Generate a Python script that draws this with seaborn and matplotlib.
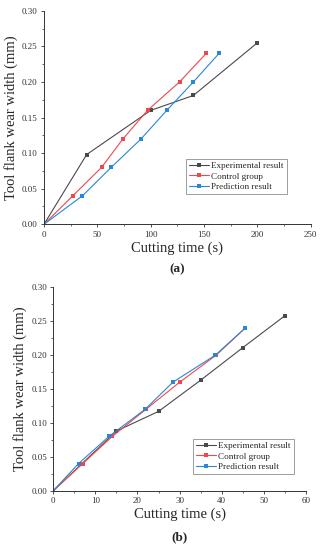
import numpy as np
import pandas as pd
import matplotlib
matplotlib.use('Agg')
import matplotlib.pyplot as plt
from matplotlib.ticker import MultipleLocator
import seaborn as sns

# ---- data (a) ----
a_exp_t = [0, 40, 100, 140, 200]
a_exp_w = [0.0, 0.098, 0.160, 0.181, 0.255]
a_ctl_t = [0, 27, 54, 74, 97, 127, 152]
a_ctl_w = [0.0, 0.04, 0.08, 0.12, 0.16, 0.20, 0.24]
a_pre_t = [0, 36, 63, 91, 115, 140, 164]
a_pre_w = [0.0, 0.04, 0.08, 0.12, 0.16, 0.20, 0.24]

# ---- data (b) ----
b_exp_t = [0, 15, 25, 35, 45, 55]
b_exp_w = [0.0, 0.088, 0.117, 0.163, 0.211, 0.258]
b_ctl_t = [0, 7, 14, 22, 30, 38.7, 45.6]
b_ctl_w = [0.0, 0.04, 0.08, 0.12, 0.16, 0.20, 0.24]
b_pre_t = [0, 6, 13.2, 21.8, 28.4, 38.5, 45.6]
b_pre_w = [0.0, 0.04, 0.08, 0.12, 0.16, 0.20, 0.24]

series_names = ['Experimental result', 'Control group', 'Prediction result']
colores = {'Experimental result': '#4a4a4a',
           'Control group': '#f0474d',
           'Prediction result': '#2a86d8'}

sns.set_style('ticks')
plt.rcParams['font.family'] = ['Liberation Serif', 'DejaVu Serif']


def armar_df(pares):
    filas = []
    for nombre, (t, w) in zip(series_names, pares):
        for ti, wi in zip(t, w):
            filas.append({'t': ti, 'w': wi, 'serie': nombre})
    return pd.DataFrame(filas)


def dibujar(ax, df, xmax, xmajor, xminor, legend_anchor, panel, panel_y):
    sns.lineplot(data=df, x='t', y='w', hue='serie', palette=colores,
                 marker='s', markersize=2.8, markeredgewidth=0,
                 linewidth=0.8, sort=False, estimator=None, ax=ax)
    ax.set_xlim(0, xmax)
    ax.set_ylim(0, 0.30)
    ax.xaxis.set_major_locator(MultipleLocator(xmajor))
    ax.xaxis.set_minor_locator(MultipleLocator(xminor))
    ax.yaxis.set_major_locator(MultipleLocator(0.05))
    ax.yaxis.set_minor_locator(MultipleLocator(0.025))
    ax.yaxis.set_major_formatter(plt.FormatStrFormatter('%.2f'))
    ax.tick_params(axis='both', which='major', labelsize=6.5, length=2.5,
                   width=0.6, direction='out', pad=2, colors='#333333')
    ax.tick_params(axis='both', which='minor', length=1.5, width=0.5,
                   direction='out', colors='#333333')
    for s in ['top', 'right']:
        ax.spines[s].set_visible(False)
    for s in ['left', 'bottom']:
        ax.spines[s].set_linewidth(0.7)
        ax.spines[s].set_color('#333333')
    ax.set_xlabel('Cutting time (s)', fontsize=10.5, labelpad=2)
    ax.set_ylabel('Tool flank wear width (mm)', fontsize=10.5, labelpad=3)
    leg = ax.legend(loc='lower right', bbox_to_anchor=legend_anchor,
                    fontsize=6.6, frameon=True, fancybox=False,
                    handlelength=2.2, handletextpad=0.25, borderpad=0.35,
                    labelspacing=0.2, borderaxespad=0)
    leg.get_frame().set_edgecolor('#555555')
    leg.get_frame().set_linewidth(0.5)
    ax.text(0.5, panel_y, panel, transform=ax.transAxes, ha='center',
            va='center', fontsize=9.5, fontweight='bold')


fig = plt.figure(figsize=(3.23, 5.5), dpi=100)
ax1 = fig.add_axes([0.1362, 0.5922, 0.826, 0.3883])
ax2 = fig.add_axes([0.165, 0.1078, 0.782, 0.3698])

df_a = armar_df([(a_exp_t, a_exp_w), (a_ctl_t, a_ctl_w), (a_pre_t, a_pre_w)])
df_b = armar_df([(b_exp_t, b_exp_w), (b_ctl_t, b_ctl_w), (b_pre_t, b_pre_w)])

dibujar(ax1, df_a, 250, 50, 25, (0.911, 0.142), '(a)', -0.21)
dibujar(ax2, df_b, 60, 10, 5, (0.953, 0.082), '(b)', -0.231)

fig.savefig('out.png', dpi=100, facecolor='white')
